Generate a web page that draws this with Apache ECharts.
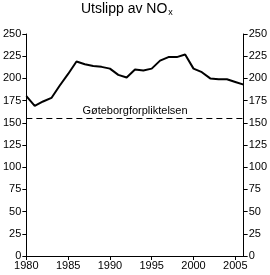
<!DOCTYPE html>
<html><head><meta charset="utf-8">
<script src="https://cdn.jsdelivr.net/npm/echarts@6/dist/echarts.min.js"></script>
<style>html,body{margin:0;padding:0;background:#fff}#c{width:270px;height:275px}</style>
</head><body><div id="c"></div>
<script>
const years = [1980,1981,1982,1983,1984,1985,1986,1987,1988,1989,1990,1991,1992,1993,1994,1995,1996,1997,1998,1999,2000,2001,2002,2003,2004,2005,2006];
const emissions = [180,169,174,178,192,205,219,216,214,213,211,204,201,210,209,211,220,224,224,227,211,207,200,199,199,196,193];
const targetValue = 155;
const targetLabel = 'Gøteborgforpliktelsen';
const yTicks = [0,25,50,75,100,125,150,175,200,225,250];

const font = 'Liberation Sans, Arial, sans-serif';
const chart = echarts.init(document.getElementById('c'));
const yAx = (pos) => ({
  type: 'value', position: pos, min: 0, max: 250, interval: 25,
  axisLine: {show: true, lineStyle: {color: '#000', width: 1}},
  axisTick: {show: true, length: 4, lineStyle: {color: '#000'}},
  axisLabel: {color: '#000', fontFamily: font, fontSize: 11, margin: 5},
  splitLine: {show: false}
});
chart.setOption({
  animation: false,
  title: {
    text: '{a|Utslipp av NO}{b|x}', left: 81, top: 2, padding: 0,
    textStyle: {fontWeight: 'normal', rich: {
      a: {fontFamily: font, fontSize: 14, fontWeight: 'normal', color: '#000'},
      b: {fontFamily: font, fontSize: 9, fontWeight: 'normal', color: '#000', verticalAlign: 'bottom', padding: [6,0,0,1]}
    }}
  },
  grid: {left: 24, right: 24, top: 34, bottom: 19, containLabel: false},
  xAxis: {
    type: 'value', min: 1980, max: 2006, interval: 5,
    axisLine: {show: true, lineStyle: {color: '#000'}},
    axisTick: {show: true, length: 4, lineStyle: {color: '#000'}},
    axisLabel: {color: '#000', fontFamily: font, fontSize: 11, margin: 4, showMaxLabel: false,
      formatter: v => (v % 5 === 0 ? String(v) : '')},
    splitLine: {show: false}
  },
  yAxis: [yAx('left'), yAx('right')],
  series: [{
    type: 'line', data: years.map((y, i) => [y, emissions[i]]),
    symbol: 'none', lineStyle: {color: '#000', width: 2},
    markLine: {
      silent: true, symbol: 'none',
      lineStyle: {color: '#000', width: 1, type: [6, 4]},
      label: {show: true, position: 'insideMiddleTop', formatter: targetLabel,
        color: '#000', fontFamily: font, fontSize: 11, distance: 2},
      data: [{yAxis: targetValue}]
    }
  }]
});
</script></body></html>
